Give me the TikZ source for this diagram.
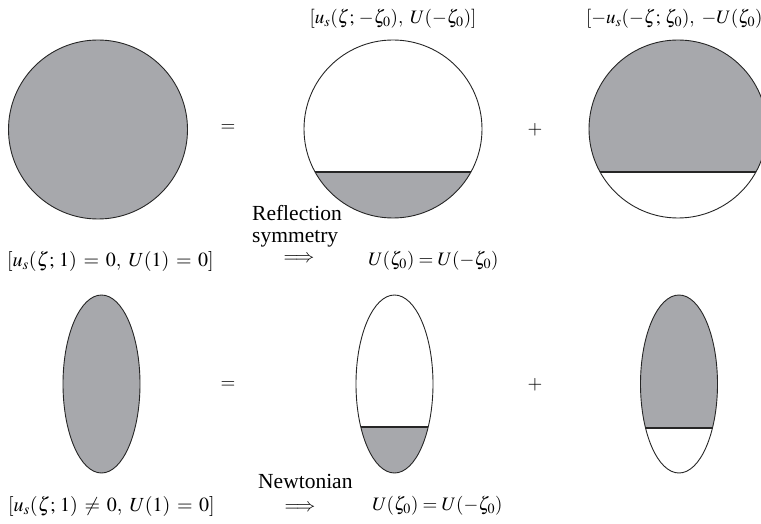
\documentclass[tikz,border=0pt]{standalone}
\usepackage{mathptmx}
\usepackage{fontspec}
\setmainfont{Liberation Serif}
\definecolor{greyfill}{RGB}{167,168,172}
\newcommand{\widerel}{\thickmuskip=6mu\relax}
\begin{document}
\begin{tikzpicture}[x=1pt,y=-1pt,
  every node/.style={font=\fontsize{19}{22}\selectfont, inner sep=0pt},
  condtext/.style={font=\fontsize{20}{22}\selectfont},
  wordtext/.style={font=\fontsize{21.5}{23}\selectfont},
  outline/.style={draw=black!85, line width=0.9pt},
  chord/.style={draw=black!85, line width=1.4pt},
  filled/.style={fill=greyfill}]
\useasboundingbox (0,0) rectangle (761,524);
% ---- top row: circles
\path[filled,outline] (98,129.5) circle [radius=89.5pt];
% circle 2
\begin{scope}
  \clip (393,129) circle [radius=89pt];
  \fill[greyfill] (300,172) rectangle (490,225);
\end{scope}
\draw[chord] (315.1,172) -- (470.9,172);
\draw[outline] (393,129) circle [radius=89pt];
% circle 3
\begin{scope}
  \clip (678,129) circle [radius=89pt];
  \fill[greyfill] (585,30) rectangle (775,172);
\end{scope}
\draw[chord] (600.1,172) -- (755.9,172);
\draw[outline] (678,129) circle [radius=89pt];
% ---- bottom row: ellipses
\path[filled,outline] (101.5,384) ellipse [x radius=38.5pt, y radius=89pt];
\begin{scope}
  \clip (394.5,384) ellipse [x radius=38.5pt, y radius=89pt];
  \fill[greyfill] (350,427) rectangle (440,480);
\end{scope}
\draw[chord] (360.8,427) -- (428.2,427);
\draw[outline] (394.5,384) ellipse [x radius=38.5pt, y radius=89pt];
\begin{scope}
  \clip (679,384) ellipse [x radius=38.5pt, y radius=89pt];
  \fill[greyfill] (630,290) rectangle (730,428);
\end{scope}
\draw[chord] (645.3,428) -- (712.7,428);
\draw[outline] (679,384) ellipse [x radius=38.5pt, y radius=89pt];
% ---- operators
\node (eq1) at (228,128) {$=$};
\node (pl1) at (535,130) {$+$};
\node (eq2) at (228,385) {$=$};
\node (pl2) at (535,385) {$+$};
% ---- labels
\node (lab2) at (393,19) {$[u_s(\zeta;\,-\zeta_0),\ U(-\zeta_0)]$};
\node[anchor=west] (lab3) at (586,19) {$[-u_s(-\zeta;\,\zeta_0),\ -U(\zeta_0)]$};
\node[anchor=west, condtext] (cond1) at (7,261) {$\widerel[u_s(\zeta;\,1) = 0,\ U(1) = 0]$};
\node[anchor=base west, align=left, wordtext] (refl) at (252,243) {Reflection\\symmetry};
\node (arr1) at (299,259) {$\Longrightarrow$};
\node[anchor=west] (res1) at (368,261) {$U(\zeta_0) = U(-\zeta_0)$};
\node[anchor=west, condtext] (cond2) at (8,506) {$\widerel[u_s(\zeta;\,1) \neq 0,\ U(1) = 0]$};
\node[anchor=west, wordtext] (newt) at (258,481) {Newtonian};
\node (arr2) at (300,508) {$\Longrightarrow$};
\node[anchor=west] (res2) at (372,506) {$U(\zeta_0) = U(-\zeta_0)$};
\end{tikzpicture}
\end{document}
